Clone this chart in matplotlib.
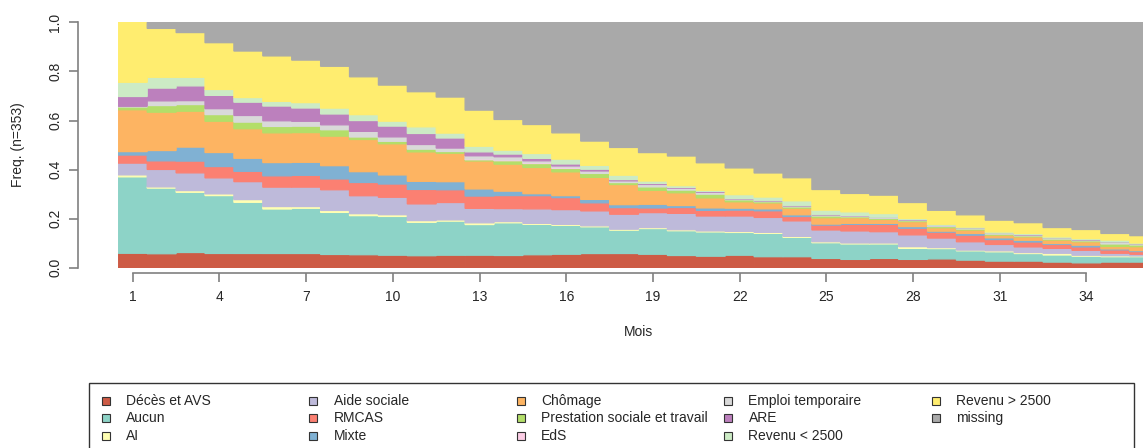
import numpy as np
import matplotlib
matplotlib.use("Agg")
import matplotlib.pyplot as plt
from matplotlib.patches import Rectangle

plt.rcParams['font.family'] = ['Liberation Sans', 'DejaVu Sans']

# ---------------- data ----------------
months = list(range(1, 37))
tick_months = [1, 4, 7, 10, 13, 16, 19, 22, 25, 28, 31, 34]
y_ticks = [0.0, 0.2, 0.4, 0.6, 0.8, 1.0]
y_tick_labels = ["0.0", "0.2", "0.4", "0.6", "0.8", "1.0"]

deces = [0.058, 0.056, 0.061, 0.057, 0.057, 0.057, 0.057, 0.053, 0.052, 0.050,
         0.048, 0.050, 0.050, 0.049, 0.052, 0.054, 0.057, 0.057, 0.054, 0.049,
         0.046, 0.050, 0.044, 0.044, 0.037, 0.033, 0.037, 0.033, 0.035, 0.030,
         0.026, 0.026, 0.022, 0.019, 0.022, 0.022]
aucun = [0.312, 0.267, 0.245, 0.235, 0.208, 0.181, 0.184, 0.171, 0.159, 0.158,
         0.136, 0.139, 0.125, 0.133, 0.124, 0.118, 0.109, 0.095, 0.105, 0.101,
         0.099, 0.093, 0.095, 0.079, 0.064, 0.063, 0.059, 0.045, 0.042, 0.038,
         0.038, 0.031, 0.029, 0.027, 0.022, 0.022]
ai = [0.008, 0.005, 0.007, 0.007, 0.011, 0.010, 0.007, 0.008, 0.008, 0.007,
      0.007, 0.005, 0.007, 0.005, 0.004, 0.004, 0.004, 0.004, 0.004, 0.004,
      0.004, 0.004, 0.004, 0.004, 0.004, 0.004, 0.004, 0.007, 0.004, 0.003,
      0.004, 0.004, 0.007, 0.004, 0.004, 0.003]
aide_sociale = [0.048, 0.071, 0.072, 0.065, 0.073, 0.079, 0.079, 0.084, 0.073, 0.071,
                0.068, 0.071, 0.059, 0.053, 0.059, 0.060, 0.061, 0.061, 0.061, 0.067,
                0.061, 0.063, 0.061, 0.063, 0.048, 0.049, 0.046, 0.048, 0.039, 0.034,
                0.026, 0.023, 0.020, 0.020, 0.010, 0.007]
rmcas = [0.033, 0.035, 0.048, 0.046, 0.042, 0.046, 0.048, 0.044, 0.054, 0.054,
         0.059, 0.052, 0.050, 0.053, 0.054, 0.049, 0.033, 0.027, 0.019, 0.024,
         0.023, 0.024, 0.027, 0.018, 0.020, 0.027, 0.030, 0.027, 0.024, 0.027,
         0.020, 0.020, 0.016, 0.014, 0.014, 0.011]
mixte = [0.014, 0.042, 0.057, 0.057, 0.053, 0.054, 0.053, 0.054, 0.044, 0.037,
         0.033, 0.033, 0.029, 0.018, 0.008, 0.008, 0.014, 0.012, 0.015, 0.008,
         0.010, 0.008, 0.008, 0.007, 0.004, 0.004, 0.004, 0.007, 0.004, 0.007,
         0.007, 0.007, 0.004, 0.007, 0.004, 0.004]
chomage = [0.171, 0.156, 0.146, 0.127, 0.120, 0.121, 0.121, 0.120, 0.131, 0.127,
           0.120, 0.116, 0.114, 0.110, 0.107, 0.097, 0.090, 0.082, 0.057, 0.052,
           0.041, 0.026, 0.024, 0.027, 0.026, 0.023, 0.016, 0.020, 0.014, 0.014,
           0.011, 0.014, 0.014, 0.014, 0.010, 0.016]
prestation = [0.011, 0.027, 0.027, 0.027, 0.027, 0.026, 0.026, 0.026, 0.010, 0.010,
              0.011, 0.007, 0.005, 0.014, 0.016, 0.014, 0.016, 0.008, 0.014, 0.011,
              0.015, 0.008, 0.005, 0.005, 0.007, 0.004, 0.004, 0.004, 0.005, 0.004,
              0.004, 0.004, 0.004, 0.004, 0.010, 0.007]
eds = [0.000, 0.000, 0.000, 0.000, 0.000, 0.000, 0.000, 0.000, 0.000, 0.000,
       0.000, 0.000, 0.003, 0.003, 0.003, 0.003, 0.000, 0.000, 0.000, 0.000,
       0.000, 0.000, 0.000, 0.000, 0.000, 0.000, 0.000, 0.000, 0.000, 0.000,
       0.000, 0.000, 0.000, 0.000, 0.000, 0.000]
emploi_temp = [0.003, 0.019, 0.016, 0.024, 0.027, 0.023, 0.020, 0.020, 0.023, 0.018,
               0.019, 0.014, 0.013, 0.013, 0.008, 0.007, 0.010, 0.007, 0.010, 0.008,
               0.008, 0.004, 0.003, 0.004, 0.004, 0.004, 0.004, 0.003, 0.004, 0.003,
               0.003, 0.004, 0.003, 0.003, 0.007, 0.003]
are = [0.040, 0.052, 0.060, 0.054, 0.054, 0.060, 0.054, 0.044, 0.044, 0.044,
       0.045, 0.041, 0.016, 0.011, 0.010, 0.008, 0.007, 0.005, 0.004, 0.003,
       0.003, 0.001, 0.001, 0.001, 0.001, 0.001, 0.001, 0.001, 0.001, 0.001,
       0.001, 0.001, 0.001, 0.001, 0.001, 0.001]
revenu_bas = [0.058, 0.044, 0.035, 0.024, 0.019, 0.019, 0.022, 0.024, 0.024, 0.020,
              0.027, 0.020, 0.023, 0.016, 0.020, 0.020, 0.016, 0.018, 0.010, 0.007,
              0.005, 0.016, 0.015, 0.020, 0.019, 0.015, 0.015, 0.005, 0.004, 0.004,
              0.005, 0.005, 0.005, 0.005, 0.008, 0.004]
revenu_haut = [0.244, 0.199, 0.182, 0.190, 0.189, 0.185, 0.173, 0.170, 0.154, 0.147,
               0.143, 0.147, 0.147, 0.125, 0.118, 0.107, 0.099, 0.113, 0.116, 0.121,
               0.112, 0.109, 0.098, 0.094, 0.084, 0.075, 0.075, 0.065, 0.057, 0.050,
               0.048, 0.044, 0.038, 0.037, 0.027, 0.030]
missing = [0.000, 0.024, 0.041, 0.082, 0.116, 0.136, 0.153, 0.178, 0.221, 0.255,
           0.282, 0.304, 0.357, 0.395, 0.416, 0.450, 0.484, 0.509, 0.531, 0.545,
           0.572, 0.593, 0.613, 0.633, 0.681, 0.697, 0.704, 0.734, 0.765, 0.785,
           0.806, 0.817, 0.836, 0.844, 0.861, 0.870]

state_names = ["Décès et AVS", "Aucun", "AI", "Aide sociale", "RMCAS", "Mixte",
               "Chômage", "Prestation sociale et travail", "EdS",
               "Emploi temporaire", "ARE", "Revenu < 2500", "Revenu > 2500",
               "missing"]
state_values = [deces, aucun, ai, aide_sociale, rmcas, mixte, chomage, prestation,
                eds, emploi_temp, are, revenu_bas, revenu_haut, missing]
state_colors = ["#CD5B45", "#8DD3C7", "#FFFFB3", "#BEBADA", "#FB8072", "#80B1D3",
                "#FDB462", "#B3DE69", "#FCCDE5", "#D9D9D9", "#BC80BD", "#CCEBC5",
                "#FFED6F", "#A9A9A9"]

# ---------------- figure ----------------
W, H = 1143, 448
fig = plt.figure(figsize=(W / 100, H / 100), dpi=100)

px0, py_top, py_bot = 118.3, 22.5, 267.5
step = 28.9
ax = fig.add_axes([px0 / W, (H - py_bot) / H, 36 * step / W, (py_bot - py_top) / H])

vals = np.array(state_values, dtype=float)
vals = vals / vals.sum(axis=0)  # proportions per month
bottom = np.zeros(len(months))
for name, v, c in zip(state_names, vals, state_colors):
    bars = ax.bar(months, v, width=1.0, bottom=bottom, color=c, edgecolor=c,
                  linewidth=0.9, label=name)
    for b, val in zip(bars, v):
        b.set_snap(False)
        if val <= 0:
            b.set_linewidth(0)
    bottom += v

ax.set_xlim(0.5, 36.5)
ax.set_ylim(0, 1)

axis_col = "#808080"
txt_col = "#262626"
for s in ["top", "right"]:
    ax.spines[s].set_visible(False)
ax.spines["left"].set_position(("outward", 40.3 * 0.72))
ax.spines["left"].set_bounds(0, 1)
ax.spines["bottom"].set_position(("outward", 5.5 * 0.72))
ax.spines["bottom"].set_bounds(tick_months[0], tick_months[-1])
for s in ["left", "bottom"]:
    ax.spines[s].set_color(axis_col)
    ax.spines[s].set_linewidth(1.2)

ax.set_xticks(tick_months)
ax.set_xticklabels([str(m) for m in tick_months])
ax.set_yticks(y_ticks)
ax.set_yticklabels(y_tick_labels, rotation=90, va="center")
ax.tick_params(axis="both", length=6.5, width=1.2, color=axis_col,
               labelcolor=txt_col, labelsize=10)
ax.tick_params(axis="y", pad=5)
ax.tick_params(axis="x", pad=6)

ax.set_ylabel("Freq. (n=353)", fontsize=10, color=txt_col, va="center")
ax.yaxis.set_label_coords((18 - px0) / (36 * step), 0.5)
ax.set_xlabel("Mois", fontsize=10, color=txt_col, va="center")
ax.xaxis.set_label_coords(0.5, (py_bot - 331.5) / (py_bot - py_top))

# ---------------- legend (manual, R style) ----------------
fig.patches.append(Rectangle((89.3 / W, (H - 470) / H), (1134.3 - 89.3) / W,
                             (470 - 383.3) / H, transform=fig.transFigure,
                             fill=False, edgecolor="#333333", linewidth=1.0,
                             clip_on=False))
col_sq = [105.5 + i * 207.5 for i in range(5)]
row_y = [400.5, 418.0, 435.5]
sq = 8.0
for i, (name, c) in enumerate(zip(state_names, state_colors)):
    col, row = divmod(i, 3)
    cx, cy = col_sq[col], row_y[row]
    fig.patches.append(Rectangle(((cx - sq / 2) / W, (H - cy - sq / 2) / H),
                                 sq / W, sq / H, transform=fig.transFigure,
                                 facecolor=c, edgecolor="#333333", linewidth=0.8))
    fig.text((cx + 20.5) / W, (H - cy) / H, name, ha="left", va="center",
             fontsize=10, color=txt_col)

fig.savefig("out.png", dpi=100)
